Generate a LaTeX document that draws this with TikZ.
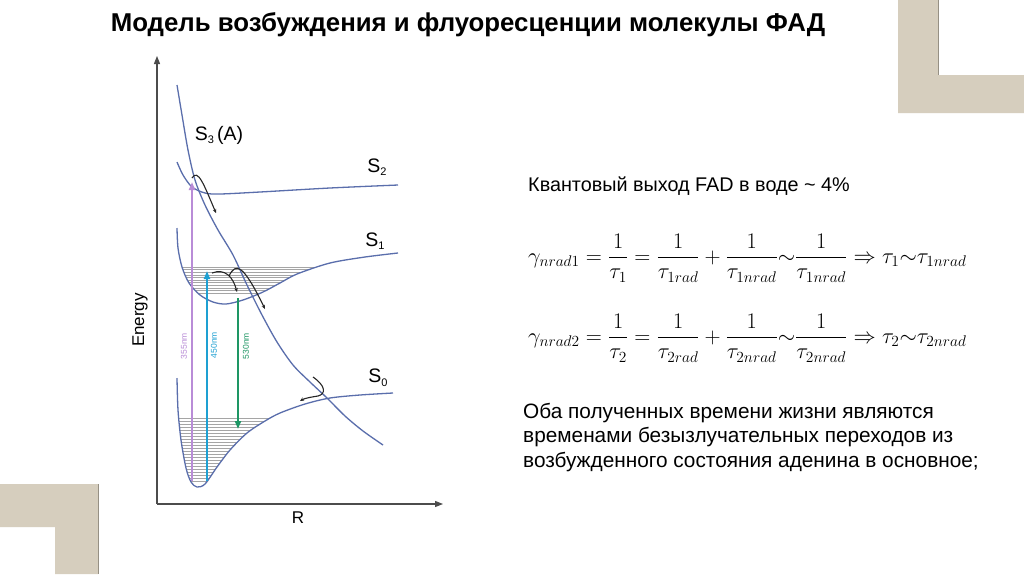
\documentclass[tikz,border=0pt]{standalone}
\usepackage[no-math]{fontspec}
\setmainfont{Liberation Sans}
\usepackage{amsmath}
\usepackage{graphicx}
\usetikzlibrary{arrows.meta}
\definecolor{pesblue}{RGB}{90,110,172}
\definecolor{levelgray}{RGB}{165,165,165}
\definecolor{uvviolet}{RGB}{185,140,215}
\definecolor{bluecyan}{RGB}{30,160,210}
\definecolor{fluogreen}{RGB}{30,150,100}
\definecolor{framebeige}{RGB}{214,206,190}
\definecolor{frameshade}{RGB}{150,144,132}
\newcommand{\lowidx}[1]{\raisebox{-0.35ex}{\fontsize{11}{11}\selectfont #1}}
\tikzstyle{pes}=[draw=pesblue, line width=1.3pt]
\tikzstyle{viblevel}=[draw=levelgray, line width=0.5pt]
\tikzstyle{transition}=[line width=2pt, -{Triangle[length=8pt,width=6pt]}]
\tikzstyle{ichook}=[draw=black!85, line width=1.1pt, -{Stealth[length=4pt,width=3.5pt]}]
\tikzstyle{enaxis}=[draw=black!70, line width=1.2pt, -{Triangle[length=8pt,width=6pt]}]
\tikzstyle{wavelabel}=[font=\fontsize{8.5}{9}\selectfont, rotate=90, inner sep=0pt]
\tikzstyle{statelabel}=[font=\fontsize{19.5}{20}\selectfont, inner sep=0pt]
\tikzstyle{bodytext}=[font=\fontsize{20.8}{24.5}\selectfont, inner sep=0pt, align=left]
\tikzstyle{formula}=[font=\fontsize{20.74}{24}\selectfont, inner sep=0pt, anchor=west]
\tikzstyle{corner}=[fill=framebeige]

\begin{document}
\begin{tikzpicture}[x=1pt, y=-1pt]
    \useasboundingbox[fill=white] (0,0) rectangle (1024,574);
    % Frame corners
    \fill[corner] (898,0) -- (938,0) -- (938,75) -- (1024,75) -- (1024,113) -- (898,113) -- cycle;
    \draw[frameshade, line width=1pt] (938,0) -- (938,75);
    \fill[corner] (0,484) -- (98,484) -- (98,574) -- (55,574) -- (55,527) -- (0,527) -- cycle;
    \draw[frameshade, line width=1pt] (98,484) -- (98,574);

    % Title
    \node[font=\fontsize{25.8}{28}\selectfont\bfseries] (title) at (468,25)
        {Модель возбуждения и флуоресценции молекулы ФАД};

    % Axes
    \coordinate (origin) at (157,504);
    \coordinate (ytip) at (157,56);
    \coordinate (xtip) at (443,504);
    \draw[enaxis] (origin) -- (ytip);
    \draw[enaxis] (origin) -- (xtip);
    \node[rotate=90, font=\fontsize{17}{18}\selectfont] (energy) at (140,320) {Energy};
    \node[font=\fontsize{17}{18}\selectfont] (rlabel) at (298,518) {R};

    % Vibrational levels inside the wells
    \begin{scope}
        \clip plot[smooth] coordinates {(177,228) (178,248) (182,267) (189,283) (200,295) (213,302)
            (226,304) (243,300) (263,292) (280,283) (297,274) (330,263) (365,257) (398,253)} -- cycle;
        \foreach \y in {0,...,10}
            \draw[viblevel] (170,267+2.6*\y) -- (340,267+2.6*\y);
    \end{scope}
    \begin{scope}
        \clip plot[smooth] coordinates {(177,378) (178,410) (181,440) (186,468) (191,482) (197,487)
            (205,484) (217,467) (230,450) (247,433) (265,421) (280,413) (305,404) (330,398)
            (360,395) (393,393)} -- cycle;
        \foreach \y in {0,...,21}
            \draw[viblevel] (170,418+3*\y) -- (300,418+3*\y);
    \end{scope}

    % Potential energy curves
    \draw[pes] plot[smooth] coordinates {(177,85) (182,115) (188,150) (195,180) (205,205) (218,230)
        (233,255) (247,285) (262,315) (277,342) (293,365) (310,382) (327,398) (345,416)
        (363,431) (383,445)};
    \draw[pes] plot[smooth] coordinates {(177,162) (183,175) (192,187) (205,193) (220,194)
        (260,192) (330,188) (398,185)};
    \draw[pes] plot[smooth] coordinates {(177,228) (178,248) (182,267) (189,283) (200,295) (213,302)
        (226,304) (243,300) (263,292) (280,283) (297,274) (330,263) (365,257) (398,253)};
    \draw[pes] plot[smooth] coordinates {(177,378) (178,410) (181,440) (186,468) (191,482) (197,487)
        (205,484) (217,467) (230,450) (247,433) (265,421) (280,413) (305,404) (330,398)
        (360,395) (393,393)};

    % State labels
    \foreach \pos/\name/\txt in {{(219,135)/S3/S\lowidx{3}\,(A)}, {(377,167)/S2/S\lowidx{2}},
        {(375,241)/S1/S\lowidx{1}}, {(378,378)/S0/S\lowidx{0}}}
        \node[statelabel] (\name) at \pos {\txt};

    % Optical transitions
    \coordinate (uv0) at (192,481);  \coordinate (uv1) at (192,182);
    \coordinate (bl0) at (207,481);  \coordinate (bl1) at (207,271);
    \coordinate (fl0) at (238,298);  \coordinate (fl1) at (238,429);
    \draw[transition, uvviolet] (uv0) -- (uv1);
    \draw[transition, bluecyan] (bl0) -- (bl1);
    \draw[transition, fluogreen] (fl0) -- (fl1);
    \node[wavelabel, text=uvviolet] (uvlabel) at (184,346) {355nm};
    \node[wavelabel, text=bluecyan] (bllabel) at (214,345) {450nm};
    \node[wavelabel, text=fluogreen] (fllabel) at (246,346) {530nm};

    % Nonradiative relaxation
    \coordinate (h1a) at (192,178);  \coordinate (h1b) at (216,213);
    \coordinate (h2a) at (212,273);  \coordinate (h2b) at (237,292);
    \coordinate (h3a) at (229,276);  \coordinate (h3b) at (265,309);
    \coordinate (h4a) at (313,377);  \coordinate (h4b) at (300,401);
    \draw[ichook] (h1a) .. controls (198,168) and (204,185) .. (h1b);
    \draw[ichook] (h2a) .. controls (225,268) and (233,277) .. (h2b);
    \draw[ichook] (h3a) .. controls (236,262) and (243,264) .. (h3b);
    \draw[ichook] (h4a) .. controls (326,386) and (326,394) .. (318,396)
        .. controls (312,397) and (305,398) .. (h4b);

    % Text on the right
    \node[font=\fontsize{19.8}{22}\selectfont, anchor=west, inner sep=0pt] (yield) at (528,186)
        {Квантовый выход FAD в воде \textasciitilde{} 4\%};
    \node[formula] (eqone) at (528,258)
        {\scalebox{1.073}{$\displaystyle \gamma_{nrad1}=\frac{1}{\tau_1}=\frac{1}{\tau_{1rad}}+\frac{1}{\tau_{1nrad}}{\sim}\frac{1}{\tau_{1nrad}}\Rightarrow\tau_1{\sim}\tau_{1nrad}$}};
    \node[formula] (eqtwo) at (528,338)
        {\scalebox{1.073}{$\displaystyle \gamma_{nrad2}=\frac{1}{\tau_2}=\frac{1}{\tau_{2rad}}+\frac{1}{\tau_{2nrad}}{\sim}\frac{1}{\tau_{2nrad}}\Rightarrow\tau_2{\sim}\tau_{2nrad}$}};
    \node[bodytext, anchor=north west] (summary) at (523,403)
        {Оба полученных времени жизни являются\\
         временами безызлучательных переходов из\\
         возбужденного состояния аденина в основное;};
\end{tikzpicture}
\end{document}
